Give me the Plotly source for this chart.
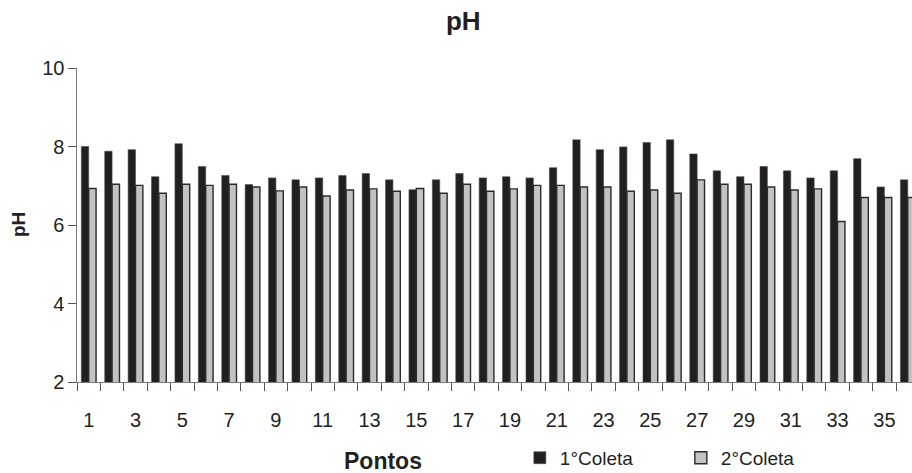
import plotly.graph_objects as go

# Sampling points and pH readings for the two collection campaigns
pontos = list(range(1, 37))
coleta_1 = [8.00, 7.88, 7.92, 7.23, 8.07, 7.49, 7.26, 7.03, 7.20, 7.15, 7.20, 7.26,
            7.31, 7.15, 6.90, 7.15, 7.31, 7.20, 7.23, 7.20, 7.46, 8.17, 7.92, 7.99,
            8.10, 8.17, 7.81, 7.38, 7.23, 7.49, 7.38, 7.20, 7.38, 7.69, 6.97, 7.15]
coleta_2 = [6.93, 7.04, 7.01, 6.81, 7.04, 7.01, 7.04, 6.97, 6.87, 6.97, 6.74, 6.89,
            6.92, 6.86, 6.93, 6.81, 7.04, 6.86, 6.92, 7.01, 7.01, 6.97, 6.97, 6.86,
            6.89, 6.81, 7.15, 7.04, 7.04, 6.97, 6.89, 6.92, 6.09, 6.70, 6.70, 6.70]
x_tick_vals = list(range(1, 36, 2))
y_tick_vals = [2, 4, 6, 8, 10]

FONT = "Liberation Sans, Arial, sans-serif"

fig = go.Figure()
fig.add_trace(go.Bar(
    x=pontos, y=coleta_1, name="1°Coleta",
    marker=dict(color="#231f20", line=dict(color="#4a4a4a", width=0.6)),
))
fig.add_trace(go.Bar(
    x=pontos, y=coleta_2, name="2°Coleta",
    marker=dict(color="#c2c2c4", line=dict(color="#2b2b2b", width=1.4)),
))

fig.update_layout(
    width=912, height=473,
    margin=dict(l=77, r=0, t=68, b=91, pad=0, autoexpand=False),
    paper_bgcolor="white", plot_bgcolor="white",
    barmode="group", bargap=0.37, bargroupgap=0,
    font=dict(family=FONT, color="#231f20"),
    title=dict(text="<b>pH</b>", font=dict(size=26, family=FONT, color="#231f20"),
               x=0.508, xref="container", xanchor="center",
               y=0.955, yref="container", yanchor="middle"),
    showlegend=True,
    legend=dict(orientation="h", xref="container", x=0.57, xanchor="left",
                yref="container", y=0.032, yanchor="middle",
                font=dict(size=19, family=FONT, color="#231f20"),
                entrywidth=116, itemwidth=30, bgcolor="rgba(0,0,0,0)"),
)

fig.update_xaxes(
    range=[0.5, 36.18], tickmode="array", tickvals=x_tick_vals,
    ticks="", ticklabelstandoff=20, automargin=False,
    tickfont=dict(size=20, family=FONT, color="#231f20"),
    showline=True, linecolor="#7a7a7a", linewidth=1.2,
    showgrid=False, zeroline=False,
    minor=dict(tick0=0.5, dtick=1, ticks="outside", ticklen=7.5,
               tickcolor="#555555", tickwidth=1, showgrid=False),
)
fig.update_yaxes(
    range=[2, 10], tickmode="array", tickvals=y_tick_vals, automargin=False,
    ticks="outside", ticklen=7.5, tickcolor="#555555", tickwidth=1,
    tickfont=dict(size=20, family=FONT, color="#231f20"),
    showline=True, linecolor="#7a7a7a", linewidth=1.2,
    showgrid=False, zeroline=False,
)

# Axis titles
fig.add_annotation(text="<b>Pontos</b>", xref="paper", yref="paper",
                   x=(383 - 77) / 835, y=-0.25, xanchor="center", yanchor="middle",
                   showarrow=False, font=dict(size=23, family=FONT, color="#231f20"))
fig.add_annotation(text="<b>pH</b>", xref="paper", yref="paper",
                   x=(18 - 77) / 835, y=0.5, xanchor="center", yanchor="middle",
                   textangle=-90, showarrow=False,
                   font=dict(size=19, family=FONT, color="#231f20"))

fig.write_html("out.html")
